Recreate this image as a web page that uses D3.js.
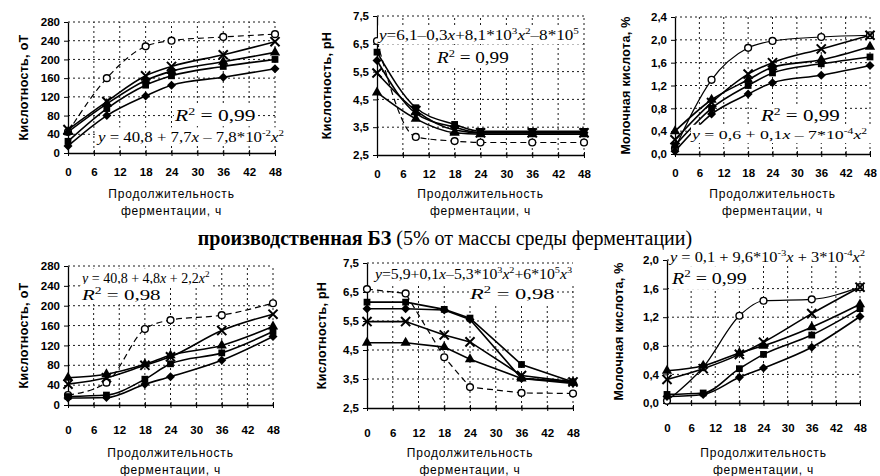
<!DOCTYPE html>
<html>
<head>
<meta charset="utf-8">
<script src="https://cdn.jsdelivr.net/npm/d3@7"></script>
<style>
body { margin: 0; background: #fff; }
svg { display: block; }
.tick text { font-family: "Liberation Sans", Arial, sans-serif; font-weight: bold; font-size: 11.5px; fill: #000; }
.grid line { stroke: #000; stroke-dasharray: 2,3; stroke-width: 0.9; }
</style>
</head>
<body>
<div id="container"></div>
<script>
let w = 880;
let h = 476;

// fermentation time, h
let hours = [0, 9, 18, 24, 36, 48];
let xTicks = [0, 6, 12, 18, 24, 30, 36, 42, 48];

// titratable acidity, oT  (top row)
let acidTopCircle   = [45, 160, 228, 240, 248, 254];
let acidTopCross    = [50, 110, 165, 185, 210, 238];
let acidTopTriangle = [45, 105, 155, 175, 195, 215];
let acidTopSquare   = [25, 95, 145, 165, 185, 200];
let acidTopDiamond  = [15, 80, 122, 145, 162, 180];

// pH (top row)
let phTopCircle   = [6.6, 3.15, 3.0, 2.95, 2.95, 2.95];
let phTopSquare   = [6.2, 4.2, 3.6, 3.35, 3.35, 3.35];
let phTopDiamond  = [5.9, 4.0, 3.5, 3.3, 3.3, 3.3];
let phTopCross    = [5.45, 4.1, 3.4, 3.3, 3.3, 3.3];
let phTopTriangle = [4.75, 3.8, 3.3, 3.25, 3.25, 3.25];

// lactic acid, % (top row)
let lacTopCircle   = [0.1, 1.3, 1.86, 1.98, 2.05, 2.08];
let lacTopCross    = [0.25, 0.9, 1.4, 1.6, 1.84, 2.08];
let lacTopTriangle = [0.4, 0.95, 1.3, 1.52, 1.65, 1.88];
let lacTopSquare   = [0.15, 0.8, 1.2, 1.42, 1.58, 1.7];
let lacTopDiamond  = [0.05, 0.7, 1.05, 1.25, 1.38, 1.55];

// titratable acidity, oT  (production starter 5%)
let acidBotCircle   = [20, 45, 153, 171, 181, 205];
let acidBotCross    = [42, 55, 80, 97, 150, 183];
let acidBotTriangle = [55, 62, 82, 100, 120, 158];
let acidBotSquare   = [17, 20, 52, 83, 105, 148];
let acidBotDiamond  = [14, 15, 42, 57, 90, 138];

// pH (production starter 5%)
let phBotCircle   = [6.6, 6.45, 4.25, 3.22, 3.02, 3.0];
let phBotSquare   = [6.15, 6.15, 5.9, 5.6, 4.0, 3.4];
let phBotDiamond  = [5.92, 5.92, 5.88, 5.55, 3.52, 3.35];
let phBotCross    = [5.48, 5.48, 5.02, 4.78, 3.62, 3.4];
let phBotTriangle = [4.75, 4.75, 4.6, 4.18, 3.52, 3.4];

// lactic acid, % (production starter 5%)
let lacBotCircle   = [0.03, 0.5, 1.22, 1.43, 1.45, 1.62];
let lacBotCross    = [0.33, 0.48, 0.68, 0.85, 1.25, 1.62];
let lacBotTriangle = [0.45, 0.52, 0.7, 0.8, 1.06, 1.38];
let lacBotSquare   = [0.12, 0.14, 0.48, 0.68, 0.95, 1.32];
let lacBotDiamond  = [0.09, 0.12, 0.36, 0.49, 0.78, 1.21];

let acidTicks = [0, 40, 80, 120, 160, 200, 240, 280];
let phTicks = [2.5, 3.5, 4.5, 5.5, 6.5, 7.5];
let lacTopTicks = [0, 0.4, 0.8, 1.2, 1.6, 2.0, 2.4];
let lacBotTicks = [0, 0.4, 0.8, 1.2, 1.6, 2.0];

let ru = d3.formatLocale({decimal: ",", thousands: " ", grouping: [3], currency: ["", ""]});

let viz = d3.select("#container").append("svg")
    .attr("width", w)
    .attr("height", h);

let panels = [
  {x: [68, 275], y: [153, 22], dom: [0, 280], ticks: acidTicks, fmt: "d", ylab: "Кислотность, оТ", ylabX: 24,
   dashed: true, curve: d3.curveMonotoneX, tickPad: 19, xlabY: [194, 211],
   series: [["circle", acidTopCircle], ["cross", acidTopCross], ["triangle", acidTopTriangle], ["square", acidTopSquare], ["diamond", acidTopDiamond]],
   notes: [{t: "R^{2} = 0,99", x: 175, y: 121, fs: 16, w: 82}, {t: "y = 40,8 + 7,7x – 7,8*10^{-2}x^{2}", x: 98, y: 142, fs: 14, w: 189}]},
  {x: [377, 584], y: [155, 16], dom: [2.5, 7.5], ticks: phTicks, fmt: ".1f", ylab: "Кислотность, pH", ylabX: 327,
   dashed: true, curve: d3.curveMonotoneX, tickPad: 19, xlabY: [194, 211],
   series: [["circle", phTopCircle], ["square", phTopSquare], ["diamond", phTopDiamond], ["cross", phTopCross], ["triangle", phTopTriangle]],
   notes: [{t: "y=6,1–0,3x+8,1*10^{3}x^{2}–8*10^{5}", x: 379, y: 40, fs: 14, w: 203}, {t: "R^{2} = 0,99", x: 437, y: 63, fs: 16, w: 73}]},
  {x: [675, 870], y: [154, 17], dom: [0, 2.4], ticks: lacTopTicks, fmt: ".1f", ylab: "Молочная кислота, %", ylabX: 626,
   dashed: false, curve: d3.curveMonotoneX, tickPad: 19, xlabY: [194, 211],
   series: [["circle", lacTopCircle], ["cross", lacTopCross], ["triangle", lacTopTriangle], ["square", lacTopSquare], ["diamond", lacTopDiamond]],
   notes: [{t: "R^{2} = 0,99", x: 761, y: 121, fs: 16, w: 80}, {t: "y = 0,6 + 0,1x – 7*10^{-4}x^{2}", x: 692, y: 139, fs: 13, w: 178}]},
  {x: [68, 273], y: [405, 266], dom: [0, 280], ticks: acidTicks, fmt: "d", ylab: "Кислотность, оТ", ylabX: 24,
   dashed: true, curve: d3.curveMonotoneX, tickPad: 25, xlabY: [453, 470],
   series: [["circle", acidBotCircle], ["cross", acidBotCross], ["triangle", acidBotTriangle], ["square", acidBotSquare], ["diamond", acidBotDiamond]],
   notes: [{t: "y = 40,8 + 4,8x + 2,2x^{2}", x: 82, y: 283, fs: 14, w: 130}, {t: "R^{2}  =  0,98", x: 82, y: 300, fs: 15, w: 80}]},
  {x: [367, 573], y: [408, 263], dom: [2.5, 7.5], ticks: phTicks, fmt: ".1f", ylab: "Кислотность, pH", ylabX: 322,
   dashed: true, curve: d3.curveLinear, tickPad: 25, xlabY: [453, 470],
   series: [["circle", phBotCircle], ["square", phBotSquare], ["diamond", phBotDiamond], ["cross", phBotCross], ["triangle", phBotTriangle]],
   notes: [{t: "y=5,9+0,1x–5,3*10^{3}x^{2}+6*10^{5}x^{3}", x: 375, y: 279, fs: 14, w: 200}, {t: "R^{2}  =  0,98", x: 470, y: 299, fs: 15, w: 86}]},
  {x: [667, 860], y: [403, 260], dom: [0, 2.0], ticks: lacBotTicks, fmt: ".1f", ylab: "Молочная кислота, %", ylabX: 619,
   dashed: false, curve: d3.curveMonotoneX, tickPad: 25, xlabY: [453, 470],
   series: [["circle", lacBotCircle], ["cross", lacBotCross], ["triangle", lacBotTriangle], ["square", lacBotSquare], ["diamond", lacBotDiamond]],
   notes: [{t: "y = 0,1 + 9,6*10^{-3}x + 3*10^{-4}x^{2}", x: 670, y: 262, fs: 14, w: 198}, {t: "R^{2} = 0,99", x: 672, y: 284, fs: 17, w: 76}]}
];

// split "y = 1 + 2x^{2}" into italic letters / superscripts / plain runs
function parseNote(str) {
  let parts = [];
  let i = 0;
  while (i < str.length) {
    let c = str[i];
    if (c == "^" && str[i + 1] == "{") {
      let j = str.indexOf("}", i);
      parts.push({s: str.slice(i + 2, j), kind: "sup"});
      i = j + 1;
    } else if (c == "x" || c == "y" || c == "R") {
      parts.push({s: c, kind: "it"});
      i++;
    } else {
      let last = parts[parts.length - 1];
      if (last && last.kind == "txt") last.s += c; else parts.push({s: c, kind: "txt"});
      i++;
    }
  }
  return parts;
}

function marker(g, kind, x, y) {
  if (kind == "circle") {
    g.append("circle").attr("cx", x).attr("cy", y).attr("r", 3.4)
      .attr("fill", "#fff").attr("stroke", "#000").attr("stroke-width", 1.4);
  } else if (kind == "cross") {
    g.append("path").attr("d", d3.symbol(d3.symbolTimes, 56)())
      .attr("transform", "translate(" + x + "," + y + ")")
      .attr("fill", "none").attr("stroke", "#000").attr("stroke-width", 2);
  } else {
    let t = {diamond: d3.symbolDiamond2, square: d3.symbolSquare, triangle: d3.symbolTriangle}[kind];
    let s = {diamond: 52, square: 46, triangle: 46}[kind];
    g.append("path").attr("d", d3.symbol(t, s)())
      .attr("transform", "translate(" + x + "," + y + ")")
      .attr("fill", "#000");
  }
}

panels.forEach(function(p) {
  let xScale = d3.scaleLinear().domain([0, 48]).range(p.x);
  let yScale = d3.scaleLinear().domain(p.dom).range(p.y);
  let g = viz.append("g");

  // dashed grid
  let grid = g.append("g").attr("class", "grid");
  grid.selectAll(".gy").data(p.ticks.slice(1)).enter().append("line")
    .attr("x1", p.x[0]).attr("x2", p.x[1])
    .attr("y1", d => yScale(d)).attr("y2", d => yScale(d));
  grid.selectAll(".gx").data(xTicks.slice(1)).enter().append("line")
    .attr("x1", d => xScale(d)).attr("x2", d => xScale(d))
    .attr("y1", p.y[0]).attr("y2", p.y[1]);

  // axes
  let yAxis = d3.axisLeft(yScale).tickValues(p.ticks).tickFormat(ru.format(p.fmt))
    .tickSizeInner(4).tickSizeOuter(0).tickPadding(4);
  g.append("g").attr("transform", "translate(" + p.x[0] + ",0)").call(yAxis)
    .call(a => a.select(".domain").attr("stroke-width", 1.3));

  let xAxis = d3.axisBottom(xScale).tickValues(xTicks).tickFormat(d3.format("d"))
    .tickSizeInner(3).tickSizeOuter(0).tickPadding(p.tickPad - 7);
  g.append("g").attr("transform", "translate(0," + p.y[0] + ")").call(xAxis)
    .call(a => a.select(".domain").attr("stroke-width", 1.3))
    .call(a => a.selectAll(".tick line").attr("y1", -3).attr("y2", 3));

  // lines + markers
  let line = d3.line().x((d, i) => xScale(hours[i])).y(d => yScale(d)).curve(p.curve);
  p.series.forEach(function(s) {
    let circle = s[0] == "circle";
    g.append("path").datum(s[1]).attr("d", line)
      .attr("fill", "none").attr("stroke", "#000")
      .attr("stroke-width", circle ? 1.2 : 1.6)
      .attr("stroke-dasharray", circle && p.dashed ? "6,4" : null);
  });
  p.series.forEach(function(s) {
    s[1].forEach((v, i) => marker(g, s[0], xScale(hours[i]), yScale(v)));
  });

  // equation and R^2 labels on white boxes
  p.notes.forEach(function(n) {
    let box = g.append("rect").attr("fill", "#fff");
    let t = g.append("text")
      .attr("font-family", "'Liberation Serif', 'Times New Roman', serif")
      .attr("font-size", n.fs).attr("fill", "#000");
    parseNote(n.t).forEach(function(part, k, all) {
      let ts = t.append("tspan").text(part.s);
      if (part.kind == "it") ts.attr("font-style", "italic");
      if (part.kind == "sup") ts.attr("font-size", n.fs * 0.65).attr("dy", -n.fs * 0.4);
      let prev = all[k - 1];
      if (prev && prev.kind == "sup" && part.kind != "sup") ts.attr("dy", n.fs * 0.4);
    });
    let bb = t.node().getBBox();
    let sx = n.w / bb.width;
    t.attr("transform", "translate(" + n.x + "," + n.y + ") scale(" + sx + ",1)");
    box.attr("x", n.x - 1).attr("y", n.y + bb.y - 1)
      .attr("width", n.w + 2).attr("height", bb.height + 2);
  });

  // axis titles
  g.append("text")
    .attr("transform", "translate(" + p.ylabX + "," + (p.y[0] + p.y[1]) / 2 + ") rotate(-90)")
    .attr("text-anchor", "middle").attr("dy", "0.35em")
    .attr("font-family", "'Liberation Sans', Arial, sans-serif")
    .attr("font-size", 12.5).attr("font-weight", "bold").attr("letter-spacing", 0.3)
    .text(p.ylab);
  let cx = (p.x[0] + p.x[1]) / 2;
  ["Продолжительность", "ферментации, ч"].forEach(function(s, i) {
    g.append("text").attr("x", cx).attr("y", p.xlabY[i]).attr("dy", "0.35em")
      .attr("text-anchor", "middle")
      .attr("font-family", "'Liberation Sans', Arial, sans-serif")
      .attr("font-size", 12).attr("letter-spacing", 0.8)
      .text(s);
  });
});

// caption between the rows
let title = viz.append("text")
    .attr("x", 445).attr("y", 245)
    .attr("text-anchor", "middle")
    .attr("font-family", "'Liberation Serif', 'Times New Roman', serif")
    .attr("font-size", 20);
title.append("tspan").attr("font-weight", "bold").text("производственная БЗ");
title.append("tspan").text(" (5% от массы среды ферментации)");
</script>
</body>
</html>
